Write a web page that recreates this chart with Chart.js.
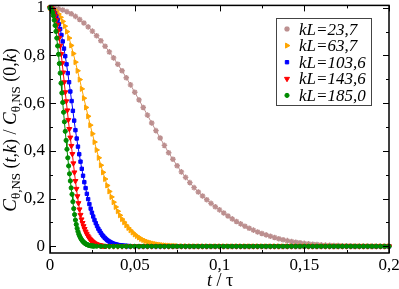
<!DOCTYPE html>
<html><head><meta charset="utf-8">
<script src="https://cdn.jsdelivr.net/npm/chart.js@4/dist/chart.umd.min.js"></script>
<style>html,body{margin:0;padding:0;background:#fff}
.fp{position:absolute;left:0;top:0;opacity:0;pointer-events:none;font-family:'Liberation Serif'}</style>
</head><body>
<div class="fp" style="font-size:17px">0,05 kL θ</div>
<div class="fp" style="font-size:17px;font-style:italic">kL=23,7 t C</div>
<canvas id="c" width="399" height="289" style="width:399px;height:289px;display:block"></canvas>
<script>
// ---- data ----
const seriesLabels = ['kL=23,7', 'kL=63,7', 'kL=103,6', 'kL=143,6', 'kL=185,0'];
const xTicks = [0, 0.05, 0.1, 0.15, 0.2];
const yTicks = [0, 0.2, 0.4, 0.6, 0.8, 1];
const xMinorStep = 0.025;
const yMinorStep = 0.1;
const tailStep = 0.0025;

const brownStep = 0.0025;
const brownY = [1,0.999,0.996,0.991,0.984,0.975,0.964,0.951,0.936,0.920,
0.902,0.883,0.862,0.839,0.815,0.790,0.763,0.736,0.707,0.677,
0.646,0.614,0.582,0.550,0.517,0.485,0.454,0.423,0.392,0.365,
0.338,0.312,0.289,0.267,0.246,0.228,0.211,0.195,0.180,0.166,
0.153,0.140,0.127,0.115,0.104,0.094,0.084,0.076,0.068,0.060,
0.054,0.048,0.042,0.037,0.032,0.0275,0.0237,0.0203,0.0173,0.0147,
0.0124,0.0105,0.0088,0.0074,0.0061,0.0051,0.0043,0.0037,0.0031,0.0026,
0.0022,0.0018,0.0015,0.0013,0.0011,0.0009,0.0007,0.0006,0.0005,0.0004,
0.0003];

const orangeStep = 0.00125;
const orangeY = [1,0.998,0.993,0.985,0.974,0.960,0.943,0.923,0.900,0.873,
0.842,0.808,0.772,0.736,0.699,0.660,0.621,0.582,0.545,0.508,
0.472,0.437,0.404,0.371,0.340,0.310,0.282,0.255,0.230,0.207,
0.185,0.165,0.147,0.130,0.114,0.101,0.088,0.077,0.067,0.058,
0.050,0.043,0.037,0.031,0.0265,0.0224,0.0189,0.0159,0.0133,0.0111,
0.0092,0.0076,0.0063,0.0052,0.0042,0.0034,0.0028,0.0023,0.0018,0.0015,
0.0012];
const orangeTail = [0.0007,0.0005,0.0003,0.0002,0.0001,
0,0,0,0,0,0,0,0,0,0, 0,0,0,0,0,0,0,0,0,0, 0,0,0,0,0,0,0,0,0,0, 0,0,0,0,0,0,0,0,0,0, 0,0,0,0,0,0,0];

const blueStep = 0.00075;
const blueY = [1,0.9985,0.994,0.987,0.977,0.964,0.949,0.931,0.911,0.886,
0.859,0.829,0.797,0.763,0.726,0.688,0.649,0.609,0.568,0.527,
0.487,0.452,0.418,0.386,0.355,0.325,0.296,0.269,0.244,0.220,
0.198,0.177,0.158,0.141,0.125,0.110,0.097,0.085,0.074,0.065,
0.056,0.0485,0.0418,0.0359,0.0307,0.0261,0.0222,0.0188,0.0158,0.0133,
0.0111,0.0093,0.0077,0.0064,0.0053,0.0043,0.0035,0.0029,0.0023,0.0019,
0.0015,0.0012,0.0010];
const blueTail = [0.0007,0.0003,0.0001,
0,0,0,0,0,0,0,0,0,0, 0,0,0,0,0,0,0,0,0,0, 0,0,0,0,0,0,0,0,0,0, 0,0,0,0,0,0,0,0,0,0, 0,0,0,0,0,0,0,0,0,0, 0,0,0,0,0,0,0,0,0,0, 0,0];

const redStep = 0.0006;
const redY = [1,0.9986,0.994,0.987,0.977,0.965,0.949,0.929,0.904,0.874,
0.841,0.806,0.768,0.729,0.688,0.646,0.608,0.570,0.530,0.492,
0.456,0.421,0.387,0.348,0.310,0.274,0.241,0.210,0.181,0.155,
0.132,0.113,0.098,0.0846,0.0727,0.0621,0.0529,0.0448,0.0378,0.0318,
0.0266,0.0221,0.0183,0.0151,0.0124,0.0101,0.0082,0.0067,0.0054,0.0043,
0.0034,0.0027,0.0022,0.0017,0.0013,0.0010];
const redTail = [0.0004,0.0001,
0,0,0,0,0,0,0,0,0,0, 0,0,0,0,0,0,0,0,0,0, 0,0,0,0,0,0,0,0,0,0, 0,0,0,0,0,0,0,0,0,0, 0,0,0,0,0,0,0,0,0,0, 0,0,0,0,0,0,0,0,0,0, 0,0,0,0,0,0,0];

const greenStep = 0.0005;
const greenY = [1,0.998,0.992,0.981,0.967,0.948,0.926,0.901,0.873,0.840,
0.805,0.766,0.726,0.684,0.643,0.603,0.562,0.522,0.482,0.444,
0.407,0.371,0.337,0.304,0.274,0.245,0.218,0.187,0.158,0.133,
0.110,0.0916,0.0754,0.0622,0.0510,0.0427,0.0355,0.0294,0.0243,0.0199,
0.0162,0.0132,0.0106,0.0086,0.0068,0.0054,0.0043,0.0034,0.0026,0.0021,
0.0016,0.0012,0.0009];
const greenTail = [0.0004,0.0001,
0,0,0,0,0,0,0,0,0,0, 0,0,0,0,0,0,0,0,0,0, 0,0,0,0,0,0,0,0,0,0, 0,0,0,0,0,0,0,0,0,0, 0,0,0,0,0,0,0,0,0,0, 0,0,0,0,0,0,0,0,0,0, 0,0,0,0,0,0,0,0,0,0];

// ---- build ----
const X_MAX = xTicks[xTicks.length - 1];
function buildPoints(step, fine, tail) {
  const pts = fine.map((v, i) => ({x: i * step, y: v}));
  if (tail) {
    const last = (fine.length - 1) * step;
    const k0 = Math.floor(last / tailStep + 1e-6) + 1;
    tail.forEach((v, j) => pts.push({x: (k0 + j) * tailStep, y: v}));
  }
  return pts.filter(p => p.x <= X_MAX + 1e-9);
}

const SERIF = "'Liberation Serif', serif";
const styles = [
  {color: '#bc8f8f', pointStyle: 'star', rotation: 0, radius: 2.8, bw: 1.4},
  {color: '#ffa500', pointStyle: 'triangle', rotation: 90, radius: 2.9, bw: 1},
  {color: '#0000ff', pointStyle: 'rect', rotation: 0, radius: 2.4, bw: 1},
  {color: '#ff0000', pointStyle: 'triangle', rotation: 180, radius: 2.9, bw: 1},
  {color: '#008b00', pointStyle: 'circle', rotation: 0, radius: 2.1, bw: 1}
];
const seriesData = [
  buildPoints(brownStep, brownY, null),
  buildPoints(orangeStep, orangeY, orangeTail),
  buildPoints(blueStep, blueY, blueTail),
  buildPoints(redStep, redY, redTail),
  buildPoints(greenStep, greenY, greenTail)
];

const datasets = seriesData.map((d, i) => ({
  label: seriesLabels[i],
  data: d,
  borderColor: styles[i].color,
  backgroundColor: styles[i].color,
  borderWidth: 1,
  pointStyle: styles[i].pointStyle,
  pointRotation: styles[i].rotation,
  pointRadius: styles[i].radius,
  pointBorderWidth: styles[i].bw,
  pointBackgroundColor: styles[i].color,
  pointBorderColor: styles[i].color,
  tension: 0,
  clip: false,
  order: 5 - i
}));

function fmt(v) { return String(v).replace('.', ','); }

function drawSegments(ctx, segs, cx, baseY) {
  let total = 0;
  segs.forEach(s => { ctx.font = s.f; s.w = ctx.measureText(s.t).width; total += s.w; });
  let x = cx - total / 2;
  segs.forEach(s => { ctx.font = s.f; ctx.fillText(s.t, x, baseY + (s.dy || 0)); x += s.w; });
}

const decor = {
  id: 'decor',
  afterDatasetsDraw(chart) {
    const {ctx, chartArea: a, scales: {x, y}} = chart;
    ctx.save();
    ctx.strokeStyle = '#000';
    ctx.lineWidth = 1;
    const line = (x1, y1, x2, y2) => { ctx.beginPath(); ctx.moveTo(x1, y1); ctx.lineTo(x2, y2); ctx.stroke(); };
    const nx = Math.round(X_MAX / xMinorStep);
    for (let i = 0; i <= nx; i++) {
      const px = Math.round(x.getPixelForValue(i * xMinorStep)) + 0.5;
      const L = i % 2 === 0 ? 6 : 3;
      line(px, a.bottom, px, a.bottom - L);
      line(px, a.top, px, a.top + L);
    }
    const ny = Math.round(1 / yMinorStep);
    for (let i = 0; i <= ny; i++) {
      const py = Math.round(y.getPixelForValue(i * yMinorStep)) + 0.5;
      const L = i % 2 === 0 ? 6 : 3;
      line(a.left, py, a.left + L, py);
      line(a.right, py, a.right - L, py);
    }
    ctx.lineWidth = 1.5;
    ctx.strokeRect(a.left, a.top, a.right - a.left, a.bottom - a.top);

    // legend
    const bx = 276.5, by = 18.5, bw = 95, bh = 87;
    ctx.fillStyle = '#fff';
    ctx.fillRect(bx, by, bw, bh);
    ctx.lineWidth = 1;
    ctx.strokeStyle = '#444';
    ctx.strokeRect(bx, by, bw, bh);
    ctx.textBaseline = 'alphabetic';
    ctx.textAlign = 'left';
    seriesLabels.forEach((lab, i) => {
      const ry = 29 + i * 16.6;
      const st = styles[i];
      ctx.fillStyle = st.color; ctx.strokeStyle = st.color; ctx.lineWidth = st.bw;
      Chart.helpers.drawPoint(ctx, {pointStyle: st.pointStyle, rotation: st.rotation, radius: st.radius, borderWidth: st.bw}, 287, ry);
      ctx.fillStyle = '#000';
      ctx.font = 'italic 17px ' + SERIF;
      ctx.fillText(lab, 299, ry + 5.5);
    });

    // x title
    ctx.fillStyle = '#000';
    drawSegments(ctx, [
      {t: 't', f: 'italic 18px ' + SERIF},
      {t: ' / τ', f: '18px ' + SERIF}
    ], 220, 286);

    // y title
    ctx.save();
    ctx.translate(15.5, 130);
    ctx.rotate(-Math.PI / 2);
    const it = 'italic 19px ' + SERIF, rm = '18px ' + SERIF, sb = '13px ' + SERIF, itk = 'italic 18px ' + SERIF;
    drawSegments(ctx, [
      {t: 'C', f: it}, {t: 'θ,NS', f: sb, dy: 4},
      {t: ' (', f: rm}, {t: 't,k', f: itk}, {t: ') / ', f: rm},
      {t: 'C', f: it}, {t: 'θ,NS', f: sb, dy: 4},
      {t: ' (0,', f: rm}, {t: 'k', f: itk}, {t: ')', f: rm}
    ], 0, 0);
    ctx.restore();
    ctx.restore();
  }
};

const chart = new Chart(document.getElementById('c'), {
  type: 'line',
  data: {datasets},
  options: {
    responsive: false,
    animation: false,
    devicePixelRatio: 1,
    layout: {padding: {top: 4, right: 10, left: 0, bottom: 0}},
    plugins: {legend: {display: false}, tooltip: {enabled: false}},
    scales: {
      x: {
        type: 'linear', min: 0, max: X_MAX,
        grid: {display: false, drawTicks: false},
        border: {display: false},
        ticks: {font: {family: SERIF, size: 17}, color: '#000', padding: 2, maxRotation: 0, autoSkip: false, callback: v => fmt(v)},
        afterBuildTicks: s => { s.ticks = xTicks.map(v => ({value: v})); },
        afterFit: s => { s.height = 36; s.paddingLeft = 0; s.paddingRight = 0; }
      },
      y: {
        type: 'linear', min: -0.028, max: 1.01,
        grid: {display: false, drawTicks: false},
        border: {display: false},
        ticks: {font: {family: SERIF, size: 17}, color: '#000', padding: 5, autoSkip: false, callback: v => fmt(v)},
        afterBuildTicks: s => { s.ticks = yTicks.map(v => ({value: v})); },
        afterFit: s => { s.width = 50; s.paddingTop = 0; s.paddingBottom = 0; }
      }
    }
  },
  plugins: [decor]
});
if (document.fonts) {
  Promise.all([
    document.fonts.load("17px 'Liberation Serif'"),
    document.fonts.load("italic 17px 'Liberation Serif'")
  ]).then(() => chart.update()).catch(() => {});
}
window.addEventListener('load', () => chart.update());
</script>
</body></html>
